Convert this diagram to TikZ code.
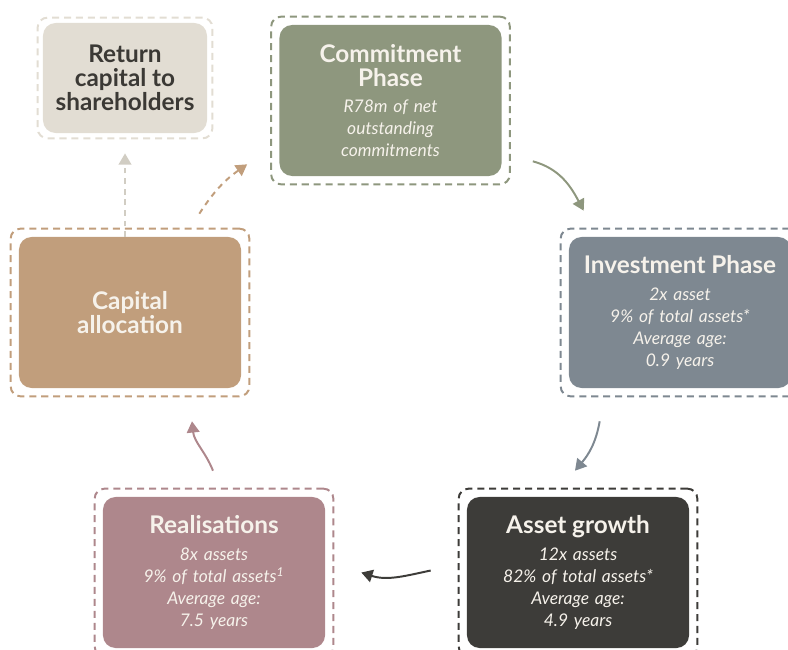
\documentclass[tikz,border=0pt]{standalone}
\usepackage{fontspec}
\setmainfont{Lato}
\usepackage{tikz}
\usetikzlibrary{arrows.meta, positioning, calc, fit}

\definecolor{retgrey}{HTML}{E2DDD3}
\definecolor{commitgreen}{HTML}{8E977E}
\definecolor{investgrey}{HTML}{7E8891}
\definecolor{growthdark}{HTML}{3D3C39}
\definecolor{realmauve}{HTML}{AE878C}
\definecolor{captan}{HTML}{C19E7C}
\definecolor{boxtext}{HTML}{F6F2EB}
\definecolor{darktext}{HTML}{3B3935}

\newcommand{\ttl}{\fontsize{17.3}{17.2}\selectfont\bfseries\upshape}

\begin{document}
\begin{tikzpicture}[x=0.025cm, y=-0.025cm,
    phase/.style={rectangle, rounded corners=9pt, minimum width=5.55cm,
        minimum height=3.775cm, inner sep=0pt, text width=5.4cm, align=center,
        text=boxtext, font=\fontsize{12.4}{15.7}\selectfont\itshape},
    ring/.style={draw=#1, rectangle, rounded corners=7pt, line width=1.4pt,
        dash pattern=on 5pt off 3.5pt, inner sep=5.7pt},
    flow/.style={draw=#1, line width=1.4pt, -{Triangle[width=9pt,length=8pt]}},
    dflow/.style={flow=#1, dash pattern=on 4pt off 3.5pt}]

        \useasboundingbox (0,0) rectangle (788,650);

        % boxes
        \node[phase, fill=retgrey, minimum width=4.1cm, minimum height=2.75cm,
            text width=4cm, text=darktext] (ret) at (125,78) {{\ttl Return\\capital to\\shareholders\par}};
        \node[phase, fill=commitgreen] (commit) at (390.5,100.5)
            {{\ttl Commitment\\Phase\par}\vspace{3pt}R78m of net\\outstanding\\commitments};
        \node[phase, fill=investgrey] (invest) at (680,312.5)
            {{\ttl Investment Phase\par}\vspace{3pt}2x asset\\9\% of total assets*\\Average age:\\0.9 years};
        \node[phase, fill=growthdark] (growth) at (578,572.5)
            {{\ttl Asset growth\par}\vspace{3pt}12x assets\\82\% of total assets*\\Average age:\\4.9 years};
        \node[phase, fill=realmauve] (real) at (214,572.5)
            {{\ttl Realisations\par}\vspace{3pt}8x assets\\9\% of total assets\textsuperscript{1}\\Average age:\\7.5 years};
        \node[phase, fill=captan] (cap) at (130,312.5) {{\ttl Capital\\allocation\par}};

        % dashed rings
        \node[ring=retgrey, fit=(ret), inner sep=3.6pt] (retO) {};
        \node[ring=commitgreen, fit=(commit)] (commitO) {};
        \node[ring=investgrey, fit=(invest)] (investO) {};
        \node[ring=growthdark, fit=(growth)] (growthO) {};
        \node[ring=realmauve, fit=(real)] (realO) {};
        \node[ring=captan, fit=(cap)] (capO) {};

        % cycle
        \draw[flow=commitgreen] ($(commitO.south east)+(22,-24)$) to[out=-15, in=118]
            ($(investO.north west)+(24,-17)$);
        \draw[flow=investgrey] ($(investO.south west)+(40,24)$) to[out=-100, in=50]
            ($(growthO.north)+(-3,-17)$);
        \draw[flow=growthdark] ($(growthO.west)+(-27,-2)$) to[out=192, in=-18]
            ($(realO.east)+(27,0)$);
        \draw[flow=realmauve] ($(realO.north)+(-1,-17)$) to[out=112, in=-84]
            ($(capO.south)+(62,24)$);
        \draw[dflow=captan] ($(capO.north east)+(-51,-14)$) to[out=57, in=-145]
            ($(commitO.south west)+(-23,-21)$);
        \draw[dflow=retgrey!90!darktext, shorten >=10pt] (retO.south |- cap.north) -- (retO.south);

    \end{tikzpicture}
\end{document}
